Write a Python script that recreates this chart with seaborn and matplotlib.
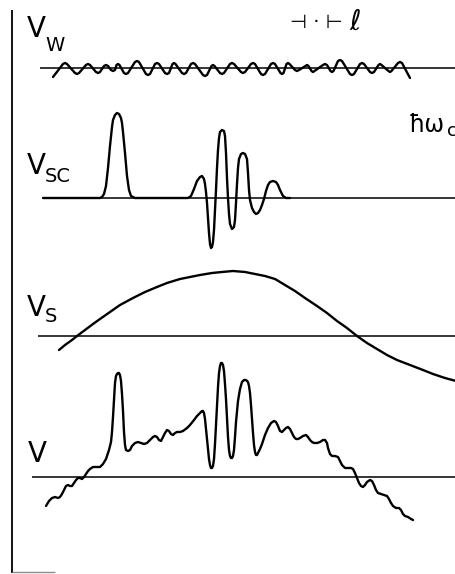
import matplotlib
matplotlib.use("Agg")
import matplotlib.pyplot as plt
import seaborn as sns

# ---- curve data: horizontal position and height above each trace's baseline ----
vw_x = [53,
        63, 65, 67, 75, 77, 79, 86, 88, 90, 96, 98, 100, 104, 106, 108,
        111, 113, 115, 116.5, 118, 119.5, 124, 126, 128, 135, 137, 139,
        146, 148, 150, 155, 157, 159, 165, 167, 169, 172.5, 174, 175.5,
        182, 184, 186, 191, 193, 195, 203, 205, 207, 211.5, 213, 214.5,
        220, 222, 224, 230, 232, 234, 241, 243, 245, 251, 253, 255,
        261, 263, 265, 271, 273, 275, 280.5, 282, 283.5, 286.5, 288, 289.5,
        295, 297, 299, 305.5, 307, 308.5, 311.5, 313, 314.5, 323, 325, 327,
        330.5, 332, 333.5, 338, 340, 342, 350, 352, 354, 360, 362, 364,
        370, 372, 374, 378.5, 380, 381.5, 388.5, 390, 391.5, 398, 400, 402,
        410]
vw_v = [-9,
        4, 5, 4, -5, -6, -5, 3, 4, 3, -4, -5, -4, 2, 3, 2,
        -2, -3, -2, 3, 4, 3, -5, -6, -5, 6, 7, 6,
        -6, -7, -6, 4, 5, 4, -5, -6, -5, 4, 5, 4,
        -5, -6, -5, 4, 5, 4, -7, -8, -7, 2, 3, 2,
        -5, -6, -5, 4, 5, 4, -4, -5, -4, 4, 5, 4,
        -6, -7, -6, 4, 5, 4, -5, -6, -5, 4, 5, 4,
        -2, -3, -2, 2, 3, 2, -3, -4, -3, 3, 4, 3,
        -3, -4, -3, 7, 8, 7, -6, -7, -6, 4, 5, 4,
        -4, -5, -4, 3, 4, 3, -3, -4, -3, 5, 6, 5,
        -10]

vsc_x = [43, 100, 102, 104, 106, 108, 110, 112, 113, 115, 117, 119, 121, 122,
         123, 125, 127, 129, 131, 135,
         188, 191, 194, 197, 200, 202, 204, 205, 206, 207, 208, 209, 210, 211,
         212, 213, 214, 215, 216, 217, 218, 219, 220, 222, 224, 225, 226, 227,
         228, 229, 230, 232, 234, 235, 236, 237, 238, 239, 241, 243, 245, 247,
         248, 249, 250, 252, 254, 256, 258, 260, 262, 264, 266, 268, 270, 273,
         276, 278, 280, 283, 286, 290]
vsc_v = [0, 0, 1, 4, 12, 30, 52, 71, 78, 83, 85, 84, 80, 75,
         66, 45, 22, 8, 2, 0,
         0, 2, 9, 17, 21, 22, 19, 14, 6, -5, -20, -35, -46, -50,
         -49, -44, -32, -12, 8, 30, 48, 60, 66, 68, 67, 62, 45, 20,
         0, -16, -26, -31, -29, -22, -5, 14, 30, 39, 44, 45, 44, 39,
         25, 8, -2, -10, -14, -16, -15, -12, -7, -1, 7, 13, 16, 17,
         16, 13, 8, 2, 0, 0]

vs_x = [59, 65, 72, 77, 85, 93, 100, 110, 120, 133, 145, 157, 167, 180, 190,
        200, 212, 222, 233, 245, 255, 265, 275, 285, 295, 305, 317, 327, 337,
        347, 357, 367, 377, 387, 397, 410, 423, 433, 445, 456]
vs_v = [-14, -9, -4, 0, 6, 12, 17, 24, 31, 38, 44, 49, 53, 57, 59,
        61, 63, 64, 65, 64, 62, 60, 57, 51, 45, 38, 30, 23, 15,
        8, 0, -7, -13, -19, -24, -29, -34, -38, -42, -45]

v_x = [46, 49, 52, 55, 58, 60, 62, 64, 66, 68, 70, 72, 74, 76, 78, 80, 82,
       84, 86, 88, 90, 93, 96, 100, 103, 106, 109, 111, 112, 113, 114, 115,
       116, 117, 118, 119, 120, 121, 122, 123, 124, 125, 126, 128, 130, 132,
       135, 138, 141, 144, 147, 150, 153, 155, 157, 159, 161, 163, 165, 167,
       169, 171, 173, 175, 177, 180, 183, 187, 190, 194, 197, 200, 202, 203,
       204, 205, 206, 207, 208, 209, 210, 211, 212, 213, 214, 215, 216, 217,
       218, 219, 220, 221, 222, 223, 224, 225, 226, 227, 228, 229, 230, 231,
       232, 233, 234, 235, 236, 238, 240, 242, 244, 246, 248, 249, 250, 251,
       252, 253, 254, 255, 256, 257, 258, 260, 262, 265, 268, 271, 274, 276,
       278, 280, 282, 284, 286, 288, 290, 292, 294, 296, 298, 300, 303, 306,
       308, 310, 312, 314, 317, 320, 323, 325, 327, 328, 330, 332, 335, 338,
       340, 342, 345, 348, 351, 353, 355, 357, 359, 361, 363, 365, 367, 370,
       372, 374, 376, 378, 381, 384, 387, 389, 391, 393, 396, 399, 401, 403,
       405, 408, 411, 413]
v_v = [-29, -24, -21, -20, -21, -20, -17, -13, -9, -8, -9, -9, -6, -3, -1, -1, -2,
       0, 3, 6, 8, 10, 10, 10, 13, 18, 27, 35, 45, 60, 78, 94,
       101, 103, 104, 104, 102, 96, 83, 66, 45, 32, 27, 26, 27, 31,
       34, 35, 34, 33, 34, 37, 40, 41, 40, 37, 36, 40, 44, 47,
       46, 43, 42, 44, 45, 45, 46, 49, 52, 57, 61, 64, 66, 66,
       64, 58, 48, 38, 28, 18, 12, 9, 9, 11, 18, 33, 52, 72,
       90, 104, 111, 114, 114, 112, 106, 93, 78, 58, 40, 27, 21, 19,
       19, 21, 27, 40, 55, 76, 88, 95, 97, 97, 95, 91, 84, 72,
       58, 44, 32, 25, 22, 22, 24, 28, 33, 42, 49, 54, 56, 55,
       51, 46, 45, 47, 49, 50, 48, 44, 40, 38, 38, 39, 41, 42,
       40, 37, 35, 34, 34, 35, 37, 37, 34, 29, 23, 21, 21, 20,
       16, 12, 9, 9, 9, 8, 4, -1, -6, -9, -10, -8, -5, -3,
       -4, -8, -13, -16, -17, -18, -19, -22, -26, -29, -31, -31, -33, -37,
       -39, -40, -42, -43]

# baseline position of each trace (measured downward from the top edge)
traces = [
    ("V", "W", vw_x, vw_v, 68, 40, (27, 37), (45, 51)),
    ("V", "SC", vsc_x, vsc_v, 198, 43, (27, 174), (45, 182)),
    ("V", "S", vs_x, vs_v, 336, 38, (27, 316), (45, 322)),
    ("V", "", v_x, v_v, 477, 32, (28, 462), None),
]

W, H = 456, 574
sns.set_theme(style="white")
plt.rcParams["font.family"] = ["DejaVu Sans"]

fig = plt.figure(figsize=(W / 100, H / 100), dpi=100)
ax = fig.add_axes([0, 0, 1, 1])
ax.set_xlim(0, W)
ax.set_ylim(H, 0)
ax.axis("off")

for main, sub, xs, vals, base, x0, pos_main, pos_sub in traces:
    ys = [base - v for v in vals]
    ax.hlines(base, x0, W, color="black", lw=1.1)
    sns.lineplot(x=xs, y=ys, sort=False, estimator=None, color="black",
                 lw=1.7, ax=ax, solid_joinstyle="round", solid_capstyle="round")
    ax.text(pos_main[0], pos_main[1], main, fontsize=20, color="black",
            ha="left", va="baseline")
    if pos_sub is not None:
        ax.text(pos_sub[0], pos_sub[1], sub, fontsize=14, color="black",
                ha="left", va="baseline")

# left frame and short bottom rule
ax.vlines(12, 10, 573, color="black", lw=1.3)
ax.hlines(572, 12, 55, color="0.55", lw=1.0)

# scale marker and cyclotron-energy label
ax.text(290, 28, "⊣ · ⊢", fontsize=14, color="black", ha="left", va="baseline")
ax.text(349, 30, "ℓ", fontsize=20, color="black", ha="left", va="baseline")
ax.text(409, 132, "ħω", fontsize=17, color="black", ha="left", va="baseline")
ax.text(447, 136, "c", fontsize=13, color="black", ha="left", va="baseline")

fig.savefig("out.png", dpi=100)
